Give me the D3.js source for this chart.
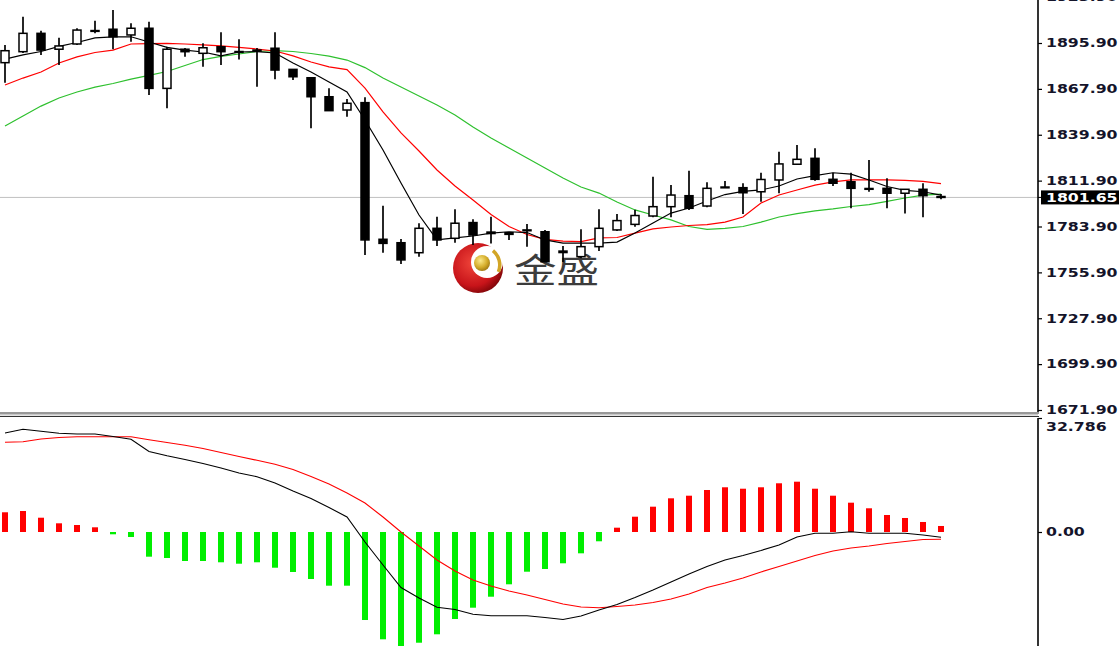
<!DOCTYPE html>
<html><head><meta charset="utf-8">
<script src="https://cdn.jsdelivr.net/npm/d3@7"></script>
<style>body{margin:0;background:#fff;overflow:hidden}svg{display:block}</style>
</head><body><svg id="c" width="1119" height="646"></svg>
<script>
// ---- Candles (OHLC) ----
const opens  = [1883.9,1890.6,1901.8,1892.1,1895.3,1903.2,1904.3,1900.8,1904.9,1868.2,1892.1,1889.6,1893.6,1890.7,1891.6,1892.7,1879.8,1874.7,1863.1,1855.0,1859.5,1776.1,1774.0,1767.9,1782.8,1776.7,1786.3,1779.6,1780.1,1781.5,1780.7,1768.9,1765.5,1771.6,1781.8,1785.2,1790.3,1796.0,1802.7,1796.4,1807.7,1807.6,1805.1,1812.3,1821.9,1825.5,1812.7,1811.2,1806.8,1807.2,1804.2,1806.6,1802.2];
const highs  = [1894.7,1911.9,1903.4,1899.1,1904.9,1909.5,1916.0,1907.9,1908.9,1893.6,1892.8,1895.7,1902.4,1898.2,1892.8,1902.4,1879.8,1874.7,1868.3,1861.7,1862.8,1796.6,1776.3,1785.9,1789.9,1794.4,1788.3,1789.9,1780.1,1785.4,1781.8,1772.0,1782.2,1794.4,1791.5,1794.1,1814.3,1809.2,1818.0,1810.9,1811.7,1810.3,1816.7,1829.6,1833.6,1831.6,1816.7,1816.7,1824.5,1813.3,1806.6,1810.3,1803.7];
const lows   = [1871.7,1889.8,1888.6,1882.5,1894.7,1901.8,1892.1,1896.7,1864.2,1856.0,1887.5,1881.4,1882.5,1885.9,1869.2,1873.7,1873.3,1843.8,1854.6,1850.9,1766.5,1767.9,1761.0,1765.5,1772.0,1774.0,1772.6,1773.6,1775.7,1771.6,1762.4,1762.2,1764.5,1768.9,1781.2,1783.8,1789.5,1789.5,1794.0,1795.6,1807.4,1791.5,1799.0,1804.2,1821.4,1811.9,1808.6,1795.0,1805.1,1795.0,1791.9,1789.5,1800.5];
const closes = [1891.2,1901.8,1891.6,1894.1,1903.8,1903.5,1899.7,1904.9,1868.2,1892.1,1890.6,1893.0,1890.6,1890.5,1891.0,1879.4,1875.3,1863.1,1854.6,1859.1,1775.7,1773.6,1763.5,1782.8,1775.7,1785.9,1778.7,1780.5,1779.1,1781.8,1762.4,1768.0,1771.6,1782.8,1787.5,1790.6,1796.0,1803.1,1795.0,1807.2,1808.0,1804.5,1812.6,1822.1,1824.9,1812.7,1810.3,1807.2,1807.1,1804.2,1806.6,1802.7,1801.65];

// ---- Moving averages ----
const maFast = [1886.1,1888.6,1890.7,1893.8,1896.2,1899.0,1899.6,1899.7,1896.5,1893.2,1891.6,1890.4,1888.0,1890.4,1890.6,1889.8,1883.7,1878.2,1872.1,1866.0,1848.9,1830.6,1810.5,1790.9,1775.7,1776.9,1778.1,1779.9,1780.7,1780.2,1775.7,1773.8,1773.8,1773.8,1774.4,1779.9,1786.0,1792.1,1795.2,1799.5,1803.4,1805.3,1806.2,1808.6,1812.9,1815.0,1816.7,1815.9,1812.3,1808.3,1805.9,1805.1,1803.1];
const maMid  = [1870.3,1874.5,1878.2,1883.7,1887.4,1890.1,1891.6,1895.3,1895.5,1895.7,1895.3,1894.7,1894.1,1893.2,1892.2,1891.0,1888.0,1884.3,1881.3,1879.7,1868.4,1853.8,1841.0,1830.0,1818.4,1808.6,1800.1,1791.2,1783.9,1779.0,1776.0,1775.0,1774.7,1776.9,1777.2,1779.9,1782.4,1783.6,1784.5,1785.1,1786.6,1789.7,1798.2,1803.1,1806.2,1809.2,1811.1,1812.3,1812.3,1812.3,1812.0,1811.4,1810.1];
const maSlow = [1845.2,1851.3,1857.4,1862.3,1866.0,1869.0,1871.2,1873.9,1876.1,1878.5,1882.2,1885.8,1887.7,1889.2,1890.7,1891.2,1890.7,1889.5,1887.9,1885.5,1880.9,1874.5,1869.0,1863.6,1858.1,1852.0,1844.6,1837.9,1831.8,1825.7,1819.6,1813.5,1808.0,1804.3,1798.9,1794.0,1790.9,1787.9,1783.9,1782.2,1782.7,1783.9,1786.6,1789.7,1791.8,1793.4,1794.6,1796.1,1797.3,1799.2,1801.3,1803.1,1803.7];

// ---- MACD ----
const macdHist = [5.67,6.04,4.11,2.50,2.01,1.35,-0.66,-1.44,-7.10,-7.48,-8.34,-8.34,-8.71,-9.12,-8.71,-10.27,-11.50,-13.52,-15.44,-15.44,-25.31,-30.86,-33.36,-31.84,-29.42,-25.02,-21.77,-18.61,-15.04,-11.42,-10.64,-9.00,-6.13,-2.67,1.24,4.40,7.28,9.69,10.44,12.08,12.86,12.45,12.86,14.01,14.47,12.45,10.44,8.43,6.82,4.89,4.03,2.88,1.73];
const macdMain = [28.47,29.54,28.96,28.39,28.18,28.18,27.47,26.66,23.15,21.94,20.85,19.70,18.41,16.97,15.90,14.09,11.79,9.63,7.05,4.31,-2.88,-9.49,-15.96,-18.98,-21.66,-22.29,-23.67,-24.07,-24.07,-24.07,-24.59,-25.17,-24.16,-22.43,-20.85,-18.84,-16.68,-14.38,-12.08,-9.92,-8.05,-6.76,-5.32,-3.74,-1.44,-0.37,-0.37,0.09,-0.37,-0.37,-0.37,-0.86,-1.52];
const macdSignal = [25.80,25.97,26.75,27.18,27.41,27.41,27.41,27.41,26.52,25.74,24.93,24.01,22.86,21.71,20.62,19.47,17.98,15.96,13.80,11.22,8.34,4.31,0.0,-4.03,-8.05,-11.22,-13.80,-15.53,-16.97,-18.12,-19.41,-20.71,-21.57,-21.77,-21.43,-20.99,-20.28,-19.27,-17.83,-15.96,-14.67,-13.23,-11.50,-9.92,-8.34,-6.76,-5.46,-4.60,-4.03,-3.31,-2.73,-2.16,-2.10];

// ---- Axis ticks ----
const priceTicks = [1923.90,1895.90,1867.90,1839.90,1811.90,1783.90,1755.90,1727.90,1699.90,1671.90];
const macdTicks = [32.786, 0];
const lastPrice = 1801.65;
const macdMax = 32.786;

const svg = d3.select("#c");
const axisX = 1038;
const FONT = "'DejaVu Sans', Verdana, sans-serif";
const SX = 1.31;

const x = d3.scaleLinear().domain([0, closes.length - 1]).range([5, 941]);
const y = d3.scaleLinear().domain([1671.9, 1895.9]).range([410, 43]);
const ym = d3.scaleLinear().domain([0, macdMax]).range([532, 418]);

svg.append("rect").attr("width",1119).attr("height",646).attr("fill","#fff");

const defs = svg.append("defs");
defs.append("clipPath").attr("id","mainClip").append("rect").attr("x",0).attr("y",0).attr("width",axisX).attr("height",412);
defs.append("clipPath").attr("id","macdClip").append("rect").attr("x",0).attr("y",418).attr("width",axisX).attr("height",228);
const rg = defs.append("radialGradient").attr("id","redG").attr("cx","40%").attr("cy","40%").attr("r","65%");
rg.append("stop").attr("offset","0%").attr("stop-color","#f0453a");
rg.append("stop").attr("offset","70%").attr("stop-color","#c8141a");
rg.append("stop").attr("offset","100%").attr("stop-color","#7c0508");
const gg = defs.append("radialGradient").attr("id","goldG").attr("cx","40%").attr("cy","35%").attr("r","70%");
gg.append("stop").attr("offset","0%").attr("stop-color","#fbe98a");
gg.append("stop").attr("offset","60%").attr("stop-color","#d4ac2a");
gg.append("stop").attr("offset","100%").attr("stop-color","#9a7410");

// ---- Main pane ----
const main = svg.append("g").attr("clip-path","url(#mainClip)");

main.append("line").attr("x1",0).attr("x2",axisX)
  .attr("y1",y(lastPrice)).attr("y2",y(lastPrice))
  .attr("stroke","#c0c0c0").attr("stroke-width",1);

// watermark
const wm = main.append("g");
wm.append("circle").attr("cx",478).attr("cy",268).attr("r",25).attr("fill","url(#redG)");
wm.append("circle").attr("cx",487).attr("cy",262).attr("r",16).attr("fill","#fff");
wm.append("circle").attr("cx",482).attr("cy",263).attr("r",8).attr("fill","url(#goldG)");
const arc = d3.arc().innerRadius(17).outerRadius(20.5).startAngle(Math.PI*0.22).endAngle(Math.PI*0.62);
wm.append("path").attr("d",arc()).attr("transform","translate(481,265)").attr("fill","#d2a526");
wm.append("text").attr("transform","translate(514,283) scale(1.25,1)")
  .attr("font-family","'Noto Sans CJK SC', sans-serif").attr("font-size",34)
  .attr("fill","#3c3c3c").text("金盛");

// MA lines
const maLine = d3.line().x((d,i)=>x(i)).y(d=>y(d));
[[maSlow,"#2ec02e"],[maMid,"#ff0000"],[maFast,"#000000"]].forEach(([arr,col])=>{
  main.append("path").attr("d",maLine(arr)).attr("fill","none").attr("stroke",col).attr("stroke-width",1.2);
});

// candles
const candles = closes.map((c,i)=>({i,o:opens[i],h:highs[i],l:lows[i],c}));
const cg = main.append("g");
cg.selectAll("line").data(candles).join("line")
  .attr("x1",d=>x(d.i)).attr("x2",d=>x(d.i))
  .attr("y1",d=>y(d.h)).attr("y2",d=>y(d.l))
  .attr("stroke","#000").attr("stroke-width",1.7);
cg.selectAll("rect").data(candles).join("rect")
  .attr("x",d=>x(d.i)-4).attr("width",8)
  .attr("y",d=>Math.min(y(d.o),y(d.c)))
  .attr("height",d=>Math.max(0.8,Math.abs(y(d.o)-y(d.c))))
  .attr("fill",d=>d.c>d.o?"#fff":"#000")
  .attr("stroke","#000").attr("stroke-width",1.5);

// ---- Separator ----
svg.append("line").attr("x1",0).attr("x2",axisX+1).attr("y1",413).attr("y2",413).attr("stroke","#333").attr("stroke-width",1);
svg.append("rect").attr("x",0).attr("y",414).attr("width",axisX).attr("height",1.5).attr("fill","#c8c8c8");
svg.append("line").attr("x1",0).attr("x2",axisX+1).attr("y1",416.5).attr("y2",416.5).attr("stroke","#333").attr("stroke-width",1);

// ---- MACD pane ----
const mp = svg.append("g").attr("clip-path","url(#macdClip)");
mp.selectAll("rect").data(macdHist).join("rect")
  .attr("x",(d,i)=>x(i)-3).attr("width",6)
  .attr("y",d=>Math.min(ym(d),ym(0)))
  .attr("height",d=>Math.abs(ym(d)-ym(0)))
  .attr("fill",d=>d>=0?"#ff0000":"#00ee00");
const mLine = d3.line().x((d,i)=>x(i)).y(d=>ym(d));
mp.append("path").attr("d",mLine(macdSignal)).attr("fill","none").attr("stroke","#ff0000").attr("stroke-width",1.1);
mp.append("path").attr("d",mLine(macdMain)).attr("fill","none").attr("stroke","#000").attr("stroke-width",1.1);

// ---- Axes ----
svg.append("line").attr("x1",axisX).attr("x2",axisX).attr("y1",0).attr("y2",412).attr("stroke","#000").attr("stroke-width",1.6);
svg.append("line").attr("x1",axisX).attr("x2",axisX).attr("y1",418).attr("y2",646).attr("stroke","#000").attr("stroke-width",1.6);

function styleAxis(g){
  g.select(".domain").remove();
  g.selectAll(".tick line").attr("stroke","#000").attr("stroke-width",1.2);
  g.selectAll(".tick text")
    .attr("font-family",FONT).attr("font-size",12).attr("font-weight","bold")
    .attr("fill","#14142a").attr("text-anchor","start")
    .attr("x",8/SX).attr("transform",`scale(${SX},1)`);
}
const ya = svg.append("g").attr("transform",`translate(${axisX},0)`)
  .call(d3.axisRight(y).tickValues(priceTicks).tickSize(4).tickPadding(4).tickFormat(d3.format(".2f")));
styleAxis(ya);

const ma = svg.append("g").attr("transform",`translate(${axisX},0)`)
  .call(d3.axisRight(ym).tickValues(macdTicks).tickSize(4).tickPadding(4).tickFormat(d=>d===0?"0.00":d3.format(".3f")(d)));
styleAxis(ma);
ma.selectAll(".tick").filter(d=>d===macdMax).select("text").attr("dy","1.05em");

// current price label
const pl = svg.append("g").attr("transform",`translate(0,${y(lastPrice)})`);
pl.append("rect").attr("x",1041).attr("y",-7).attr("width",80).attr("height",14).attr("fill","#000");
pl.append("line").attr("x1",axisX).attr("x2",1042).attr("y1",0).attr("y2",0).attr("stroke","#000");
pl.append("text").attr("transform",`translate(1046,0) scale(${SX},1)`)
  .attr("dy","0.36em").attr("font-family",FONT).attr("font-size",12).attr("font-weight","bold")
  .attr("fill","#fff").text(d3.format(".2f")(lastPrice));
</script></body></html>
